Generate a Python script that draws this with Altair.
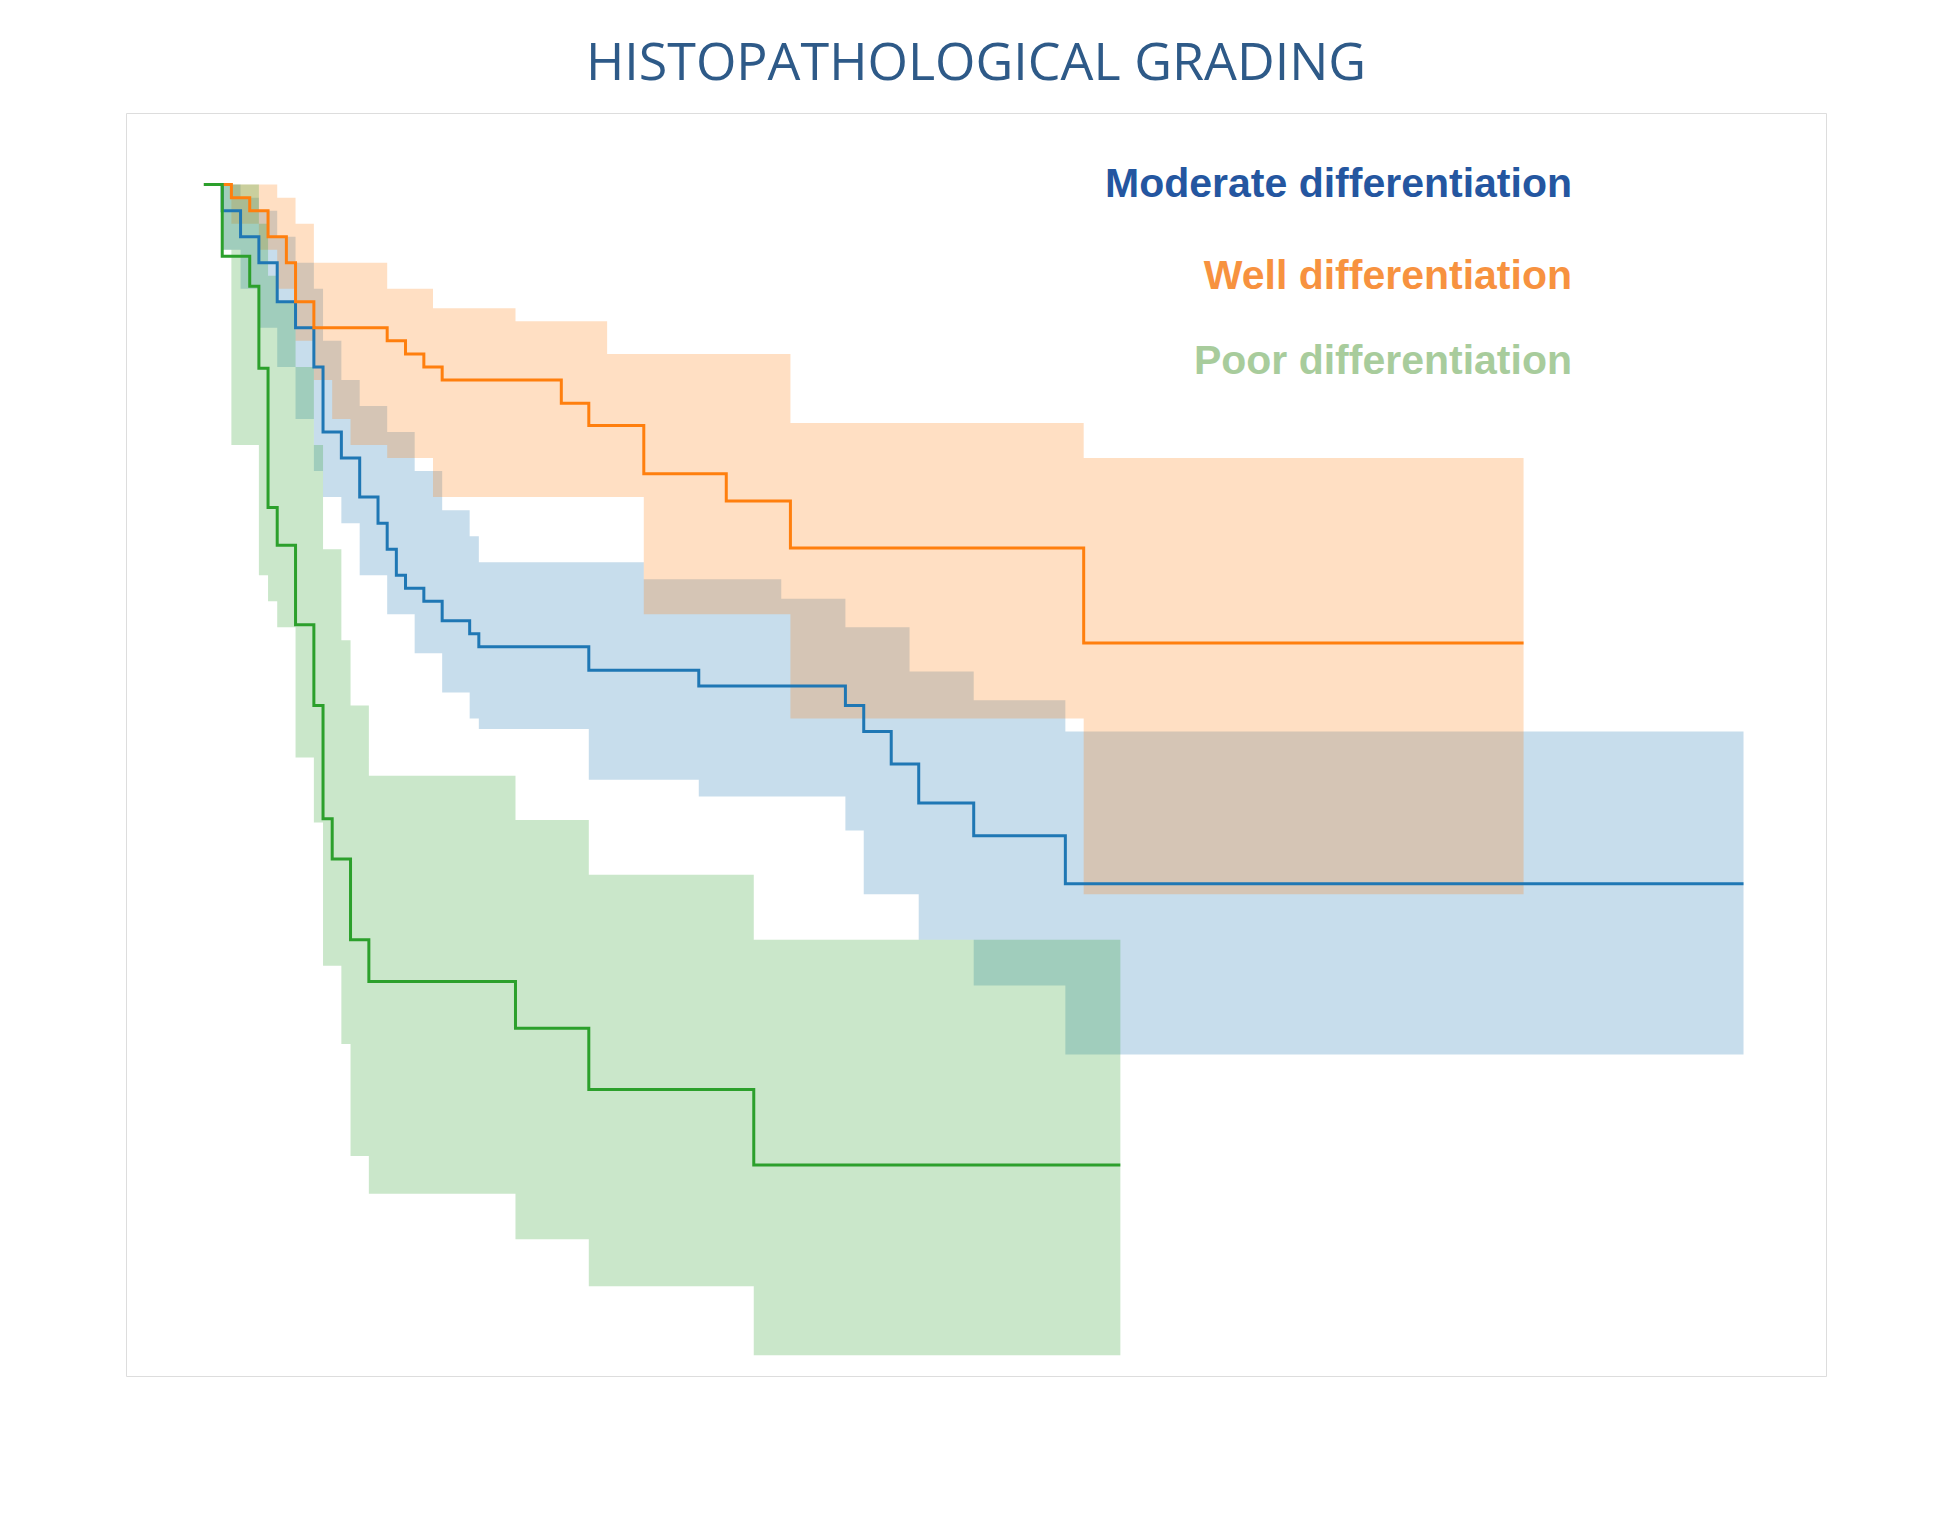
import altair as alt
import pandas as pd

# Kaplan-Meier survival curves (step-after)
groups = ["1", "0", "2"]
colors = ["#1f77b4", "#ff7f0e", "#2ca02c"]

blue_t = [0, 2, 4, 6, 8, 10, 12, 13, 15, 17, 19, 20, 21, 22, 24, 26, 29, 30, 42, 54, 70, 72, 75, 78, 84, 94, 168]
blue_s = [1.0, 0.98, 0.96, 0.94, 0.91, 0.89, 0.86, 0.81, 0.79, 0.76, 0.74, 0.72, 0.70, 0.69, 0.68, 0.665, 0.655,
          0.645, 0.627, 0.615, 0.60, 0.58, 0.555, 0.525, 0.50, 0.463, 0.463]
orange_t = [0, 3, 5, 7, 9, 10, 12, 20, 22, 24, 26, 39, 42, 48, 57, 64, 96, 144]
orange_s = [1.0, 0.99, 0.98, 0.96, 0.94, 0.91, 0.89, 0.88, 0.87, 0.86, 0.85, 0.832, 0.815, 0.778, 0.757, 0.721,
            0.648, 0.648]
green_t = [0, 2, 5, 6, 7, 8, 10, 12, 13, 14, 16, 18, 34, 42, 60, 100]
green_s = [1.0, 0.945, 0.922, 0.859, 0.752, 0.723, 0.662, 0.60, 0.513, 0.482, 0.42, 0.388, 0.352, 0.305, 0.247,
           0.247]

# confidence bands
blue_ci_t = [0, 2, 4, 6, 8, 10, 12, 13, 15, 17, 20, 23, 26, 29, 30, 42, 48, 54, 63, 70, 72, 77, 78, 84, 94, 168]
blue_hi = [1.0, 1.0, 0.99, 0.98, 0.96, 0.94, 0.92, 0.88, 0.85, 0.83, 0.81, 0.78, 0.75, 0.73, 0.71, 0.71, 0.697,
           0.697, 0.682, 0.66, 0.66, 0.626, 0.626, 0.604, 0.58, 0.58]
blue_lo = [1.0, 0.95, 0.92, 0.89, 0.86, 0.82, 0.78, 0.76, 0.74, 0.70, 0.67, 0.64, 0.61, 0.59, 0.582, 0.543, 0.543,
           0.53, 0.53, 0.504, 0.455, 0.455, 0.42, 0.385, 0.332, 0.332]
orange_ci_t = [0, 3, 6, 8, 10, 12, 14, 16, 20, 25, 34, 44, 48, 63, 64, 96, 144]
orange_hi = [1.0, 1.0, 1.0, 0.99, 0.97, 0.94, 0.94, 0.94, 0.92, 0.905, 0.895, 0.87, 0.87, 0.87, 0.817, 0.79, 0.79]
orange_lo = [1.0, 0.97, 0.95, 0.92, 0.88, 0.85, 0.82, 0.80, 0.79, 0.76, 0.76, 0.76, 0.67, 0.67, 0.59, 0.455, 0.455]
green_ci_t = [0, 2, 3, 6, 7, 8, 10, 12, 13, 15, 16, 18, 34, 42, 60, 100]
green_hi = [1.0, 1.0, 1.0, 0.97, 0.93, 0.91, 0.86, 0.80, 0.72, 0.65, 0.60, 0.546, 0.512, 0.47, 0.42, 0.42]
green_lo = [1.0, 0.95, 0.80, 0.70, 0.68, 0.66, 0.56, 0.51, 0.40, 0.34, 0.254, 0.225, 0.19, 0.154, 0.101, 0.101]

names = ["Moderate differentiation", "Well differentiation", "Poor differentiation"]
name_colors = ["#2456a0", "#f7923f", "#a8cc9c"]
name_y = [1.0, 0.929, 0.864]

lines = pd.concat([
    pd.DataFrame({"t": t, "s": s, "g": g})
    for t, s, g in [(blue_t, blue_s, "1"), (orange_t, orange_s, "0"), (green_t, green_s, "2")]
])
bands = pd.concat([
    pd.DataFrame({"t": t, "lo": lo, "hi": hi, "g": g})
    for t, lo, hi, g in [(blue_ci_t, blue_lo, blue_hi, "1"), (orange_ci_t, orange_lo, orange_hi, "0"),
                         (green_ci_t, green_lo, green_hi, "2")]
])

xs = alt.Scale(domain=[-8.5, 177], nice=False, zero=False)
ys = alt.Scale(domain=[0.085, 1.055], nice=False, zero=False)
cs = alt.Scale(domain=groups, range=colors)

area = alt.Chart(bands).mark_area(interpolate="step-after", opacity=0.25).encode(
    x=alt.X("t:Q", scale=xs, axis=None),
    y=alt.Y("hi:Q", scale=ys, axis=None),
    y2="lo:Q",
    color=alt.Color("g:N", scale=cs, legend=None),
    detail="g:N",
)

line = alt.Chart(lines).mark_line(interpolate="step-after", strokeWidth=3).encode(
    x=alt.X("t:Q", scale=xs, title="timeline",
            axis=alt.Axis(values=list(range(0, 176, 25)), grid=False, labelFontSize=37, titleFontSize=37,
                          tickSize=10, tickWidth=2, labelColor="#222", titleColor="#222",
                          titleFontWeight="normal", labelPadding=8, domain=False)),
    y=alt.Y("s:Q", scale=ys, title=None,
            axis=alt.Axis(values=[0.2, 0.4, 0.6, 0.8, 1.0], format=".1f", grid=False, labelFontSize=37,
                          tickSize=10, tickWidth=2, labelColor="#222", labelPadding=10, domain=False)),
    color=alt.Color("g:N", scale=cs, title=None, sort=groups,
                    legend=alt.Legend(orient="none", legendX=1476, legendY=22, symbolType="stroke",
                                      symbolSize=6400, symbolStrokeWidth=4, labelFontSize=38,
                                      labelColor="#222", strokeColor="#ccc", padding=14, cornerRadius=6,
                                      rowPadding=30, labelOffset=20)),
)

# coloured descriptions next to the legend
notes = []
for name, c, yv in zip(names, name_colors, name_y):
    notes.append(
        alt.Chart(pd.DataFrame({"name": [name], "y": [yv]}))
        .mark_text(align="right", baseline="middle", fontSize=41, fontWeight="bold",
                   font="Liberation Sans", color=c)
        .encode(x=alt.value(1446), y=alt.Y("y:Q", scale=ys, axis=None), text="name:N")
    )

chart = alt.layer(area, line, *notes).properties(
    width=1700, height=1263,
    padding={"left": 118, "top": 30, "right": 20, "bottom": 20},
    title=alt.Title("HISTOPATHOLOGICAL GRADING", fontSize=52, font="Open Sans", fontWeight="normal",
                    color="#2e5a88", offset=22),
).configure_view(stroke="#222", strokeWidth=2.5).configure(font="DejaVu Sans")

chart.save("out.html", embed_options={"renderer": "svg", "actions": False})
